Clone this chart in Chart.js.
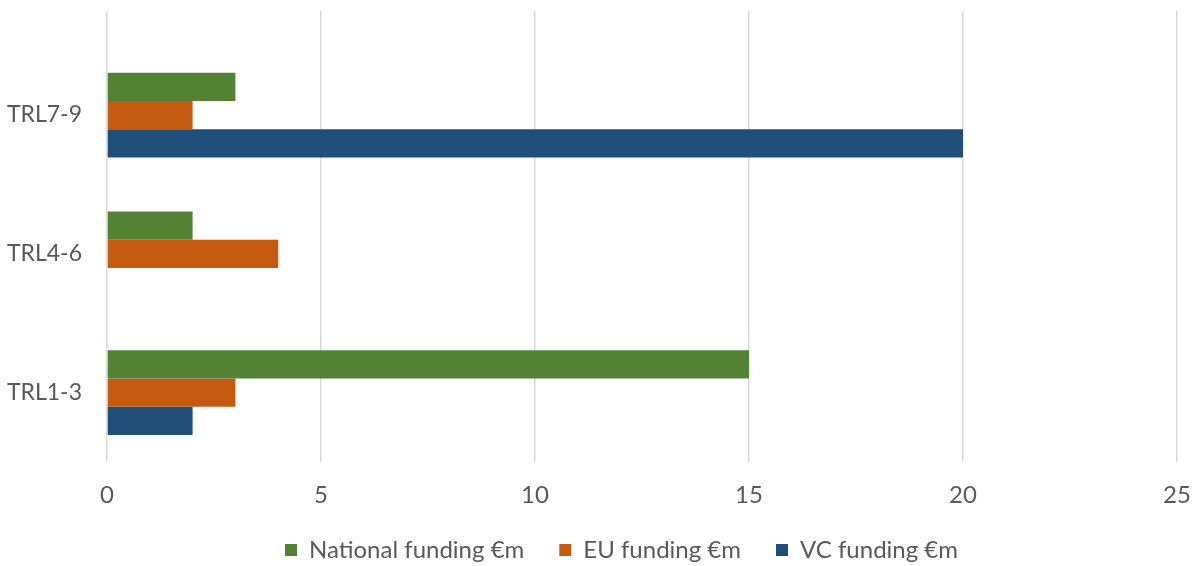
<!DOCTYPE html>
<html>
<head>
<meta charset="utf-8">
<script src="https://cdn.jsdelivr.net/npm/chart.js@4.4.0/dist/chart.umd.min.js"></script>
<style>
    html, body { margin: 0; padding: 0; background: #fff; }
    #wrap { width: 1195px; height: 566px; }
</style>
</head>
<body>
<div id="wrap"><canvas id="myChart" width="1195" height="566"></canvas></div>
<script>
var categories = ['TRL7-9', 'TRL4-6', 'TRL1-3'];
var nationalFunding = [3, 2, 15];
var euFunding = [2, 4, 3];
var vcFunding = [20, 0, 2];
var xTicks = [0, 5, 10, 15, 20, 25];

var textColor = '#595959';
var fontFamily = 'Lato, Calibri, Carlito, sans-serif';

// rows are placed on a numeric axis so there is room above the first group
function toPoints(values) {
    return categories.map(function (cat, i) {
        return { x: values[i], y: i };
    });
}

function makeDataset(label, values, color) {
    return {
        label: label,
        data: toPoints(values),
        backgroundColor: color,
        borderColor: color,
        borderWidth: 0,
        barPercentage: 1,
        categoryPercentage: 0.61
    };
}

// nudge the legend row a bit to the right of the canvas centre
var legendOffset = {
    id: 'legendOffset',
    afterLayout: function (chart) {
        if (chart.legend) {
            chart.legend.left += 33;
            chart.legend.right += 33;
        }
    }
};

var ctx = document.getElementById('myChart').getContext('2d');
var myChart = new Chart(ctx, {
    type: 'bar',
    data: {
        datasets: [
            makeDataset('National funding €m', nationalFunding, '#548235'),
            makeDataset('EU funding €m', euFunding, '#c55a11'),
            makeDataset('VC funding €m', vcFunding, '#1f4e79')
        ]
    },
    plugins: [legendOffset],
    options: {
        indexAxis: 'y',
        responsive: false,
        animation: false,
        layout: {
            padding: { top: 11, right: 18, bottom: 0, left: 0 }
        },
        scales: {
            x: {
                type: 'linear',
                min: 0,
                max: 25,
                afterBuildTicks: function (scale) {
                    scale.ticks = xTicks.map(function (v) { return { value: v }; });
                },
                afterFit: function (scale) {
                    scale.height = 41;
                    scale.paddingLeft = 0;
                    scale.paddingRight = 0;
                },
                grid: {
                    color: '#d9d9d9',
                    lineWidth: 1.5,
                    drawTicks: false
                },
                border: { display: false },
                ticks: {
                    color: textColor,
                    padding: 19,
                    font: { family: fontFamily, size: 24 }
                }
            },
            y: {
                type: 'linear',
                reverse: true,
                offset: false,
                min: -0.75,
                max: 2.5,
                afterBuildTicks: function (scale) {
                    scale.ticks = categories.map(function (c, i) { return { value: i }; });
                },
                afterFit: function (scale) {
                    scale.width = 107;
                    scale.paddingTop = 0;
                    scale.paddingBottom = 0;
                },
                grid: { display: false, drawTicks: false },
                border: { display: false },
                ticks: {
                    color: textColor,
                    padding: 25,
                    font: { family: fontFamily, size: 23 },
                    callback: function (value) {
                        return categories[value];
                    }
                }
            }
        },
        plugins: {
            legend: {
                position: 'bottom',
                maxHeight: 63,
                labels: {
                    color: textColor,
                    boxWidth: 12,
                    boxHeight: 12,
                    padding: 35,
                    font: { family: fontFamily, size: 24 }
                }
            },
            tooltip: { enabled: false }
        }
    }
});
</script>
</body>
</html>
